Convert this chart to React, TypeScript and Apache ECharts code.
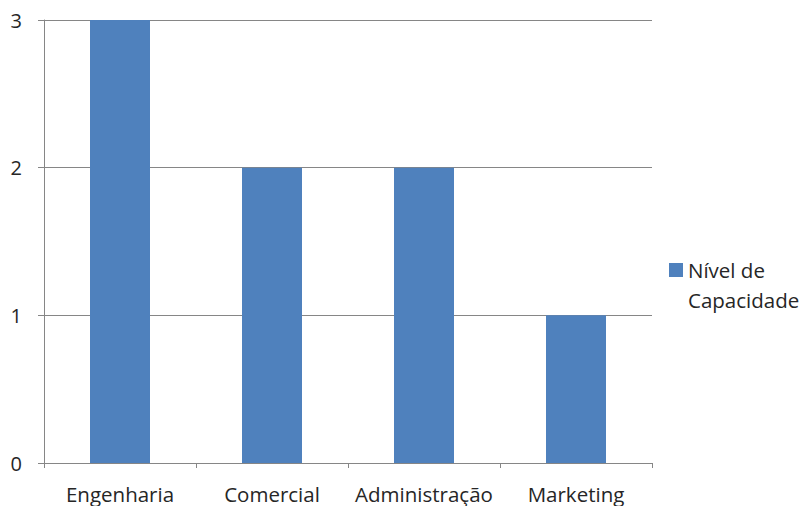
import React, { useEffect, useRef } from "react";
import * as echarts from "echarts";

const categories = ["Engenharia", "Comercial", "Administração", "Marketing"];
const values = [3, 2, 2, 1];
const seriesName = "Nível de Capacidade";

export default function App() {
  const ref = useRef<HTMLDivElement>(null);
  useEffect(() => {
    const chart = echarts.init(ref.current!, null, { renderer: "svg" });
    chart.setOption({
      animation: false,
      backgroundColor: "#ffffff",
      textStyle: { fontFamily: "Open Sans" },
      grid: { left: 44, right: 154, top: 20, bottom: 43 },
      legend: {
        show: true,
        orient: "vertical",
        left: 669,
        top: 225,
        padding: 0,
        itemWidth: 14,
        itemHeight: 14,
        itemGap: 0,
        data: [{ name: seriesName, icon: "rect" }],
        formatter: () => "\nNível de\nCapacidade",
        textStyle: { fontSize: 20.5, color: "#262626", lineHeight: 30 },
      },
      xAxis: {
        type: "category",
        data: categories,
        axisLine: { show: true, lineStyle: { color: "#868686", width: 1 } },
        axisTick: { show: true, interval: 0, alignWithLabel: false, length: 5, lineStyle: { color: "#868686" } },
        axisLabel: { color: "#262626", fontSize: 20.5, margin: 20, interval: 0 },
      },
      yAxis: {
        type: "value",
        min: 0,
        max: 3,
        interval: 1,
        axisLine: { show: true, lineStyle: { color: "#868686", width: 1 } },
        axisTick: { show: true, length: 6, lineStyle: { color: "#868686" } },
        splitLine: { show: true, lineStyle: { color: "#868686", width: 1 } },
        axisLabel: { color: "#262626", fontSize: 20, margin: 22 },
      },
      series: [
        {
          name: seriesName,
          type: "bar",
          data: values,
          barWidth: 60,
          itemStyle: { color: "#4F81BD" },
        },
      ],
    });
    return () => chart.dispose();
  }, []);
  return (
    <div
      ref={ref}
      style={{ position: "fixed", left: 0, top: 0, width: 806, height: 506 }}
    />
  );
}
